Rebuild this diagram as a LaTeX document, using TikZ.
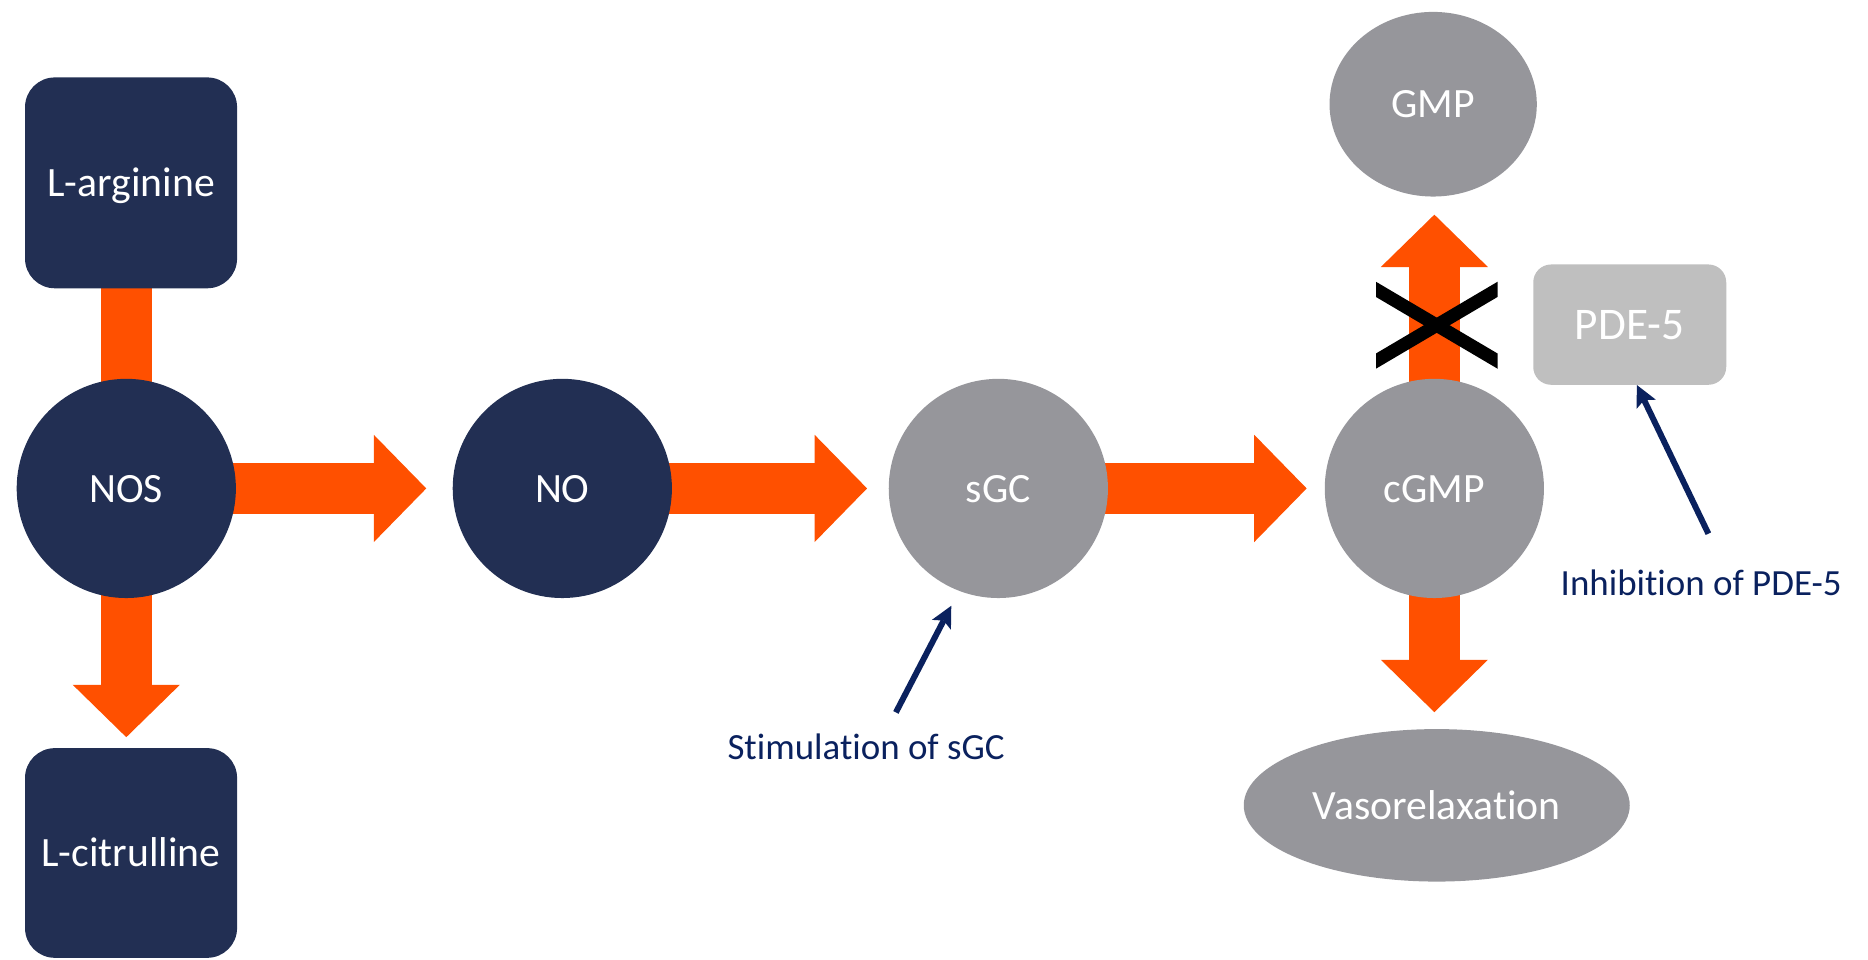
\documentclass[tikz,border=0pt]{standalone}
\usepackage{fontspec}
\setmainfont{Carlito}[Ligatures=NoCommon]
\usetikzlibrary{shapes.geometric,arrows.meta,backgrounds}
\definecolor{darknavy}{HTML}{222F53}
\definecolor{flow}{HTML}{FF5000}
\definecolor{molgray}{HTML}{96969B}
\definecolor{pdegray}{HTML}{BFBFBF}
\definecolor{notenavy}{HTML}{0A215E}
\tikzstyle{substrate} = [rectangle, rounded corners=25pt, minimum width=178pt, minimum height=177pt, inner sep=0pt, fill=darknavy, text=white, font=\fontsize{35}{40}\selectfont, text height=28pt, text depth=5pt]
\tikzstyle{enzyme} = [circle, minimum size=184pt, inner sep=0pt, fill=darknavy, text=white, font=\fontsize{35}{40}\selectfont, text height=28pt, text depth=5pt]
\tikzstyle{messenger} = [enzyme, fill=molgray]
\tikzstyle{effect} = [ellipse, inner sep=0pt, fill=molgray, text=white, font=\fontsize{35}{40}\selectfont, text height=28pt, text depth=5pt]
\tikzstyle{inhibitor} = [rectangle, rounded corners=15pt, minimum width=162pt, minimum height=101pt, inner sep=0pt, fill=pdegray, text=white, font=\fontsize{38}{44}\selectfont, text height=30pt, text depth=5pt]
\tikzstyle{note} = [text=notenavy, font=\fontsize{31}{36}\selectfont]
\tikzstyle{bar} = [line width=43pt, color=flow]
\tikzstyle{bigarrow} = [bar, -{Triangle[length=44pt, width=90pt, line width=0pt]}]
\tikzstyle{pointer} = [line width=5pt, color=notenavy, -{Stealth[length=18pt, width=18pt, inset=4pt, line width=0pt]}]
\tikzstyle{cross} = [line width=11pt, color=black]

\begin{document}
\begin{tikzpicture}[x=1pt, y=1pt, node distance=366pt]
\useasboundingbox (0,0) rectangle (1568,805);
\node (nos) [enzyme] at (106,395) {NOS};
\node (no) [enzyme, right of=nos] {NO};
\node (sgc) [messenger, right of=no] {sGC};
\node (cgmp) [messenger, right of=sgc] {cGMP};
\node (arg) [substrate] at (110,651.5) {L-arginine};
\node (cit) [substrate, minimum height=176pt] at (110,89) {L-citrulline};
\node (gmp) [effect, minimum width=174pt, minimum height=155pt] at (1203,717.5) {GMP};
\node (vaso) [effect, minimum width=324pt, minimum height=128pt] at (1206,129) {Vasorelaxation};
\node (pde) [inhibitor] at (1368,532.5) {PDE-5};
\node (stim) [note] at (727,178) {Stimulation of sGC};
\node (inhib) [note] at (1428,316) {Inhibition of PDE-5};
\coordinate (stimtail) at (752,207);
\coordinate (inhibtail) at (1434,357);
\coordinate (block) at (1206,532);

\begin{scope}[on background layer]
\draw [bar] (nos.center) -- (nos |- arg.center);
\draw [bigarrow, shorten >=9pt] (nos.center) -- (nos |- cit.north);
\draw [bigarrow, shorten >=22pt] (nos.center) -- (no.west);
\draw [bigarrow, shorten >=18pt] (no.center) -- (sgc.west);
\draw [bigarrow, shorten >=15pt] (sgc.center) -- (cgmp.west);
\draw [bigarrow, shorten >=15pt] (cgmp.center) -- (cgmp |- gmp.south);
\draw [bigarrow, shorten >=14pt] (cgmp.center) -- (cgmp |- vaso.north);
\end{scope}

\begin{scope}
\clip ([shift={(-51,-40)}]block) rectangle ([shift={(51,40)}]block);
\draw [cross] ([shift={(-60,35.4)}]block) -- ([shift={(60,-35.4)}]block);
\draw [cross] ([shift={(-60,-35.4)}]block) -- ([shift={(60,35.4)}]block);
\end{scope}

\draw [pointer, shorten >=14pt] (stimtail) -- (sgc.-111);
\draw [pointer] (inhibtail) -- ([xshift=6pt]pde.south);

\end{tikzpicture}
\end{document}
